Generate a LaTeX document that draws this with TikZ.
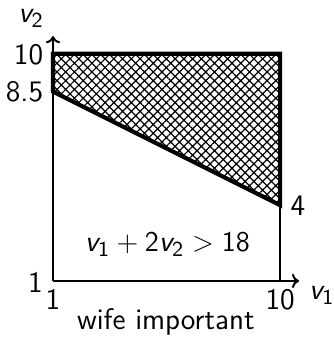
\documentclass[tikz,border=0pt]{standalone}
\usetikzlibrary{patterns.meta,arrows.meta}
\newcommand\vv{\textsf{\itshape v}}
\begin{document}
\begin{tikzpicture}[x=10.6pt,y=10.6pt,
  lbl/.style={anchor=base,inner sep=0pt,font=\fontsize{12.5}{15}\sffamily},
  axis/.style={line width=0.84pt,-{To[length=3pt,width=6pt]}},
  thin/.style={line width=0.84pt},
  bold/.style={line width=1.7pt,line join=miter}]
\useasboundingbox (-1.10,-1.30) rectangle (12.13,12.13);
\coordinate (o) at (1,1);
\coordinate (a) at (1,8.5);
\coordinate (b) at (1,10);
\coordinate (c) at (10,10);
\coordinate (d) at (10,4);
\coordinate (e) at (10,1);
\coordinate (xe) at (10.75,1);
\coordinate (ye) at (1,10.7);
\fill[pattern={Hatch[angle=45,distance=2.6pt,line width=0.5pt]}] (a) -- (b) -- (c) -- (d) -- cycle;
\draw[thin] (d) -- (e);
\draw[axis] (o) -- (xe);
\draw[axis] (o) -- (ye);
\draw[bold] (a) -- (b) -- (c) -- (d) -- cycle;
\node[lbl] (ly) at (0.13,11.22) {$\vv_{\mathsf{2}}$};
\node[lbl] (l10y) at (0.03,9.59) {10};
\node[lbl] (l85) at (-0.13,8.09) {8.5};
\node[lbl] (l1y) at (0.30,0.56) {1};
\node[lbl] (l1x) at (1.0,-0.15) {1};
\node[lbl] (l10x) at (10.0,-0.15) {10};
\node[lbl] (lx) at (11.65,0.25) {$\vv_{\mathsf{1}}$};
\node[lbl] (l4) at (10.7,3.61) {4};
\node[lbl] (ineq) at (5.53,2.15) {$\vv_{\mathsf{1}} + \mathsf{2}\vv_{\mathsf{2}} > \mathsf{18}$};
\node[lbl] (cap) at (5.47,-0.94) {wife important};
\end{tikzpicture}
\end{document}
